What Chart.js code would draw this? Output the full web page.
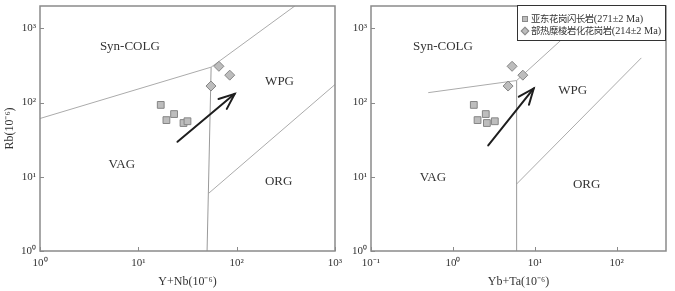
<!DOCTYPE html>
<html>
<head>
<meta charset="utf-8">
<script src="https://cdn.jsdelivr.net/npm/chart.js@4"></script>
<style>
  body { margin: 0; background: #fff; width: 675px; height: 291px; position: relative; overflow: hidden; }
  .wrap { position: absolute; top: 0; }
  #legend {
    position: absolute; left: 517px; top: 5px; width: 149px; height: 36px;
    border: 1.5px solid #333; background: #fff; box-sizing: border-box;
    padding: 5.5px 0 0 4px; color: #333; filter: grayscale(1);
    font: 10.3px "Liberation Serif", "Noto Sans CJK SC", serif; white-space: nowrap;
  }
  #legend .row { height: 12.4px; line-height: 12.4px; }
  #legend .cjk { font-size: 9.4px; font-family: "Noto Sans CJK SC", sans-serif; letter-spacing: -0.4px; }
  #legend .mk { display: inline-block; width: 6px; height: 6px; background: #bdbdbd;
    border: 1px solid #8a8a8a; margin-right: 3px; vertical-align: 0px; box-sizing: border-box; }
  #legend .mk.dm { transform: rotate(45deg) scale(1.05); }
</style>
</head>
<body>
<div class="wrap" style="left:0"><canvas id="left" width="345" height="291"></canvas></div>
<div class="wrap" style="left:340px"><canvas id="right" width="335" height="291"></canvas></div>
<div id="legend"></div>
<script>
// series names
const seriesNames = ["亚东花岗闪长岩(271±2 Ma)", "部热糜棱岩化花岗岩(214±2 Ma)"];

// sample values
const yNbSquares = [16.9, 19.3, 23.1, 28.8, 31.6];
const ybTaSquares = [1.8, 2.0, 2.52, 2.6, 3.25];
const rbSquares = [93, 58, 70, 53, 56];
const yNbDiamonds = [54.8, 66, 85];
const ybTaDiamonds = [4.72, 5.28, 7.14];
const rbDiamonds = [167, 308, 234];

// field boundaries, [x, Rb]
const leftSynVag = [[1, 61], [55, 300]];
const leftSynWpg = [[55, 300], [390, 2000]];
const leftVagWpg = [[50, 1], [55, 300]];
const leftWpgOrg = [[52, 6], [1000, 175]];
const rightSynVag = [[0.5, 136], [6, 198]];
const rightSynWpg = [[6, 198], [60, 2000]];
const rightVagWpg = [[6, 1], [6, 198]];
const rightWpgOrg = [[6, 8], [200, 400]];

// trend arrows (tail, head)
const leftArrow = [[25, 29.6], [95.5, 131]];
const rightArrow = [[2.7, 26.5], [9.7, 155]];

// field names and where they sit
const fieldNames = ["Syn-COLG", "WPG", "VAG", "ORG"];
const leftFieldAt = [[8.2, 575], [273, 190], [6.8, 14.5], [267, 8.7]];
const rightFieldAt = [[0.755, 575], [29, 145], [0.57, 9.8], [43, 7.8]];

// tick values
const yNbTicks = [1, 10, 100, 1000];
const ybTaTicks = [0.1, 1, 10, 100];
const rbTicks = [1, 10, 100, 1000];

const SERIF = '"Liberation Serif", "Times New Roman", serif';
const sup = { "-": "⁻", "0": "⁰", "1": "¹", "2": "²", "3": "³" };
const pow10 = (v) => "10" + String(Math.round(Math.log10(v))).split("").map((c) => sup[c]).join("");
const pts = (xs, ys) => xs.map((x, i) => ({ x, y: ys[i] }));
const seg = (arr) => arr.map(([x, y]) => ({ x, y }));

function boundary(arr, color) {
  return { type: "line", data: seg(arr), borderColor: color || "#ababab", borderWidth: 1,
    pointRadius: 0, showLine: true, fill: false, order: 3 };
}

function noPad(s) {
  s.paddingTop = 0; s.paddingBottom = 0; s.paddingLeft = 0; s.paddingRight = 0;
}

function makeDecor(fieldAt) {
  return {
    id: "decor",
    afterDatasetsDraw(chart) {
      const { ctx, chartArea: a, scales: { x, y } } = chart;
      ctx.save();
      ctx.strokeStyle = "#8a8a8a";
      ctx.lineWidth = 1.5;
      ctx.strokeRect(a.left, a.top, a.right - a.left, a.bottom - a.top);
      ctx.lineWidth = 1;
      ctx.beginPath();
      x.ticks.forEach((t) => {
        const px = Math.round(x.getPixelForValue(t.value)) + 0.5;
        ctx.moveTo(px, a.bottom); ctx.lineTo(px, a.bottom - 4);
      });
      y.ticks.forEach((t) => {
        const py = Math.round(y.getPixelForValue(t.value)) + 0.5;
        ctx.moveTo(a.left, py); ctx.lineTo(a.left + 4, py);
      });
      ctx.stroke();

      // field names
      ctx.fillStyle = "#333";
      ctx.font = "13px " + SERIF;
      ctx.textAlign = "center";
      ctx.textBaseline = "middle";
      fieldNames.forEach((name, i) => {
        ctx.fillText(name, x.getPixelForValue(fieldAt[i][0]), y.getPixelForValue(fieldAt[i][1]));
      });

      // arrow head
      const idx = chart.data.datasets.findIndex((d) => d.isArrow);
      const el = chart.getDatasetMeta(idx).data;
      const p0 = el[0], p1 = el[1];
      const ang = Math.atan2(p1.y - p0.y, p1.x - p0.x);
      const len = 17, spread = 0.39;
      ctx.strokeStyle = "#1e1e1e";
      ctx.lineWidth = 2;
      ctx.lineCap = "round";
      ctx.beginPath();
      ctx.moveTo(p1.x - len * Math.cos(ang - spread), p1.y - len * Math.sin(ang - spread));
      ctx.lineTo(p1.x, p1.y);
      ctx.lineTo(p1.x - len * Math.cos(ang + spread), p1.y - len * Math.sin(ang + spread));
      ctx.stroke();
      ctx.restore();
    }
  };
}

function makeChart(id, cfg) {
  const tickFont = { family: SERIF, size: 11 };
  const titleFont = { family: SERIF, size: 12 };
  return new Chart(document.getElementById(id), {
    type: "scatter",
    data: {
      datasets: [
        boundary(cfg.synVag), boundary(cfg.synWpg), boundary(cfg.vagWpg, "#9a9a9a"), boundary(cfg.wpgOrg),
        { type: "line", isArrow: true, data: seg(cfg.arrow), borderColor: "#1e1e1e", borderWidth: 2,
          pointRadius: 0, showLine: true, fill: false, order: 2, borderCapStyle: "round" },
        { label: seriesNames[0], data: cfg.squares, pointStyle: "rect", pointRadius: 4.8,
          backgroundColor: "#bdbdbd", borderColor: "#858585", borderWidth: 1, order: 1 },
        { label: seriesNames[1], data: cfg.diamonds, pointStyle: "rectRot", pointRadius: 5,
          backgroundColor: "#bdbdbd", borderColor: "#858585", borderWidth: 1, order: 1 }
      ]
    },
    options: {
      responsive: false,
      animation: false,
      layout: { padding: { left: 0, top: 5, right: cfg.padRight, bottom: 0 } },
      plugins: { legend: { display: false }, tooltip: { enabled: false } },
      scales: {
        x: {
          type: "logarithmic", min: cfg.xMin, max: cfg.xMax,
          afterBuildTicks: (s) => { s.ticks = cfg.xTicks.map((v) => ({ value: v })); },
          afterFit: (s) => { s.height = 40; noPad(s); },
          ticks: { callback: (v) => pow10(v), font: tickFont, color: "#333", padding: 6,
            maxRotation: 0, autoSkip: false },
          grid: { display: false, drawTicks: false },
          border: { display: false },
          title: { display: true, text: cfg.xTitle, font: titleFont, color: "#333",
            padding: { top: 0, bottom: 2 } }
        },
        y: {
          type: "logarithmic", min: 1, max: 2000,
          afterBuildTicks: (s) => { s.ticks = rbTicks.map((v) => ({ value: v })); },
          afterFit: (s) => { s.width = cfg.yWidth; noPad(s); },
          ticks: { callback: (v) => pow10(v), font: tickFont, color: "#333", padding: 4, autoSkip: false },
          grid: { display: false, drawTicks: false },
          border: { display: false },
          title: { display: cfg.yTitle !== "", text: cfg.yTitle, font: titleFont, color: "#333",
            padding: { top: 3, bottom: 0 } }
        }
      }
    },
    plugins: [makeDecor(cfg.fieldAt)]
  });
}

makeChart("left", {
  synVag: leftSynVag, synWpg: leftSynWpg, vagWpg: leftVagWpg, wpgOrg: leftWpgOrg,
  arrow: leftArrow, squares: pts(yNbSquares, rbSquares), diamonds: pts(yNbDiamonds, rbDiamonds),
  xMin: 1, xMax: 1000, xTicks: yNbTicks, xTitle: "Y+Nb(10⁻⁶)", yTitle: "Rb(10⁻⁶)",
  yWidth: 40, padRight: 10, fieldAt: leftFieldAt
});

makeChart("right", {
  synVag: rightSynVag, synWpg: rightSynWpg, vagWpg: rightVagWpg, wpgOrg: rightWpgOrg,
  arrow: rightArrow, squares: pts(ybTaSquares, rbSquares), diamonds: pts(ybTaDiamonds, rbDiamonds),
  xMin: 0.1, xMax: 400, xTicks: ybTaTicks, xTitle: "Yb+Ta(10⁻⁶)", yTitle: "",
  yWidth: 31, padRight: 9, fieldAt: rightFieldAt
});

// legend: Chinese part a little smaller than the Latin part, as in the figure
const legend = document.getElementById("legend");
seriesNames.forEach((name, i) => {
  const row = document.createElement("div");
  row.className = "row";
  const mk = document.createElement("span");
  mk.className = i === 0 ? "mk" : "mk dm";
  row.appendChild(mk);
  const cut = name.indexOf("(");
  const cjk = document.createElement("span");
  cjk.className = "cjk";
  cjk.textContent = name.slice(0, cut);
  row.appendChild(cjk);
  row.appendChild(document.createTextNode(name.slice(cut)));
  legend.appendChild(row);
});
</script>
</body>
</html>
